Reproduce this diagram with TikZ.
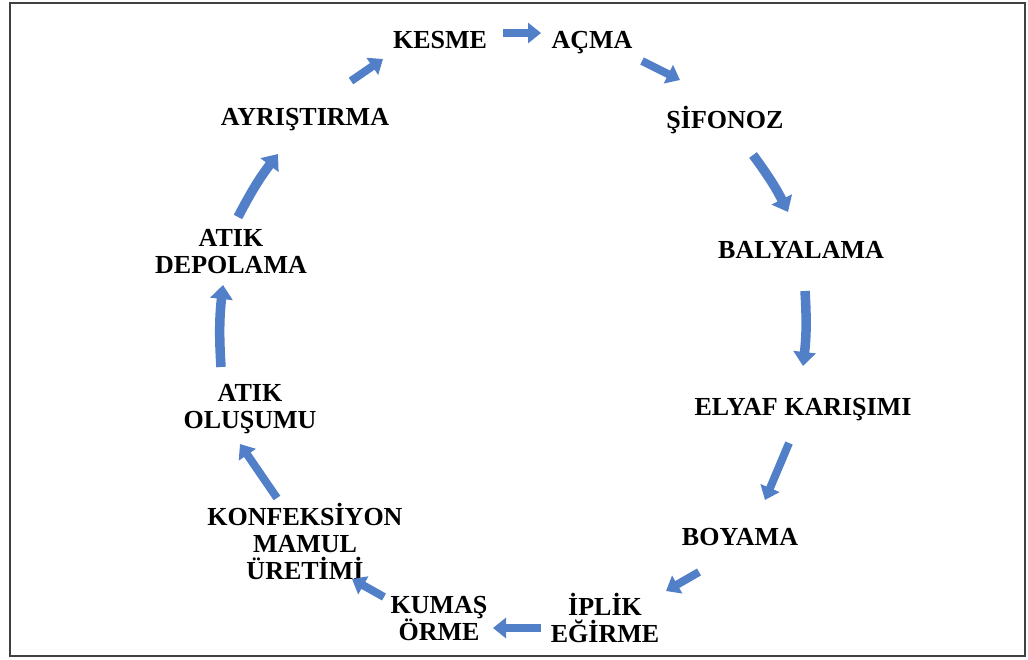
\documentclass[tikz,border=0pt]{standalone}
\usepackage{fontspec}
\setmainfont{Liberation Serif}
\usetikzlibrary{arrows.meta}
\definecolor{okmavi}{RGB}{82,128,200}

\begin{document}
\begin{tikzpicture}[x=1pt,y=-1pt,
		adim/.style={font=\fontsize{26}{27}\selectfont\bfseries, align=center, text depth=0pt, inner sep=0pt},
		ok/.style={draw=okmavi, line width=8pt, -{Triangle[width=20pt,length=13pt]}},
		okk/.style={ok, line width=9.5pt, -{Triangle[width=22pt,length=14pt]}}]
		\useasboundingbox (0,0) rectangle (1028,659);
		\draw[line width=2pt, black!75] (10,3) rectangle (1025,656);
		% adimlar
		\node[adim] (kesme) at (440,40) {KESME};
		\node[adim] (acma) at (592,40) {AÇMA};
		\node[adim] (sifonoz) at (725,117) {ŞİFONOZ};
		\node[adim] (balya) at (801,250) {BALYALAMA};
		\node[adim] (elyaf) at (803,407) {ELYAF KARIŞIMI};
		\node[adim] (boyama) at (740,537) {BOYAMA};
		\node[adim] (iplik) at (605,618) {İPLİK\\EĞİRME};
		\node[adim] (kumas) at (439,618) {KUMAŞ\\ÖRME};
		\node[adim] (konf) at (305,541) {KONFEKSİYON\\MAMUL\\ÜRETİMİ};
		\node[adim] (olusum) at (250,406) {ATIK\\OLUŞUMU};
		\node[adim] (depo) at (231,251) {ATIK\\DEPOLAMA};
		\node[adim] (ayrist) at (305,117) {AYRIŞTIRMA};
		% ok uclari
		\coordinate (a1) at (503,33);  \coordinate (b1) at (541,33);
		\coordinate (a2) at (642,61);  \coordinate (b2) at (680,80);
		\coordinate (a3) at (753,155); \coordinate (b3) at (788,212);
		\coordinate (a4) at (805,291); \coordinate (b4) at (803,366);
		\coordinate (a5) at (789,443); \coordinate (b5) at (765,500);
		\coordinate (a6) at (699,572); \coordinate (b6) at (666,591);
		\coordinate (a7) at (541,628); \coordinate (b7) at (493,628);
		\coordinate (a8) at (384,597); \coordinate (b8) at (352,579);
		\coordinate (a9) at (277,498); \coordinate (b9) at (240,444);
		\coordinate (a10) at (221,367); \coordinate (b10) at (223,285);
		\coordinate (a11) at (238,217); \coordinate (b11) at (278,154);
		\coordinate (a12) at (351,81); \coordinate (b12) at (383,59);
		% oklar
		\draw[ok] (a1) -- (b1);
		\draw[ok] (a2) -- (b2);
		\draw[okk] (a3) to[bend left=5] (b3);
		\draw[okk] (a4) to[bend left=5] (b4);
		\draw[ok] (a5) -- (b5);
		\draw[ok] (a6) -- (b6);
		\draw[ok] (a7) -- (b7);
		\draw[ok] (a8) -- (b8);
		\draw[ok] (a9) -- (b9);
		\draw[okk] (a10) to[bend left=5] (b10);
		\draw[okk] (a11) to[bend left=5] (b11);
		\draw[ok] (a12) -- (b12);
		\end{tikzpicture}
\end{document}
